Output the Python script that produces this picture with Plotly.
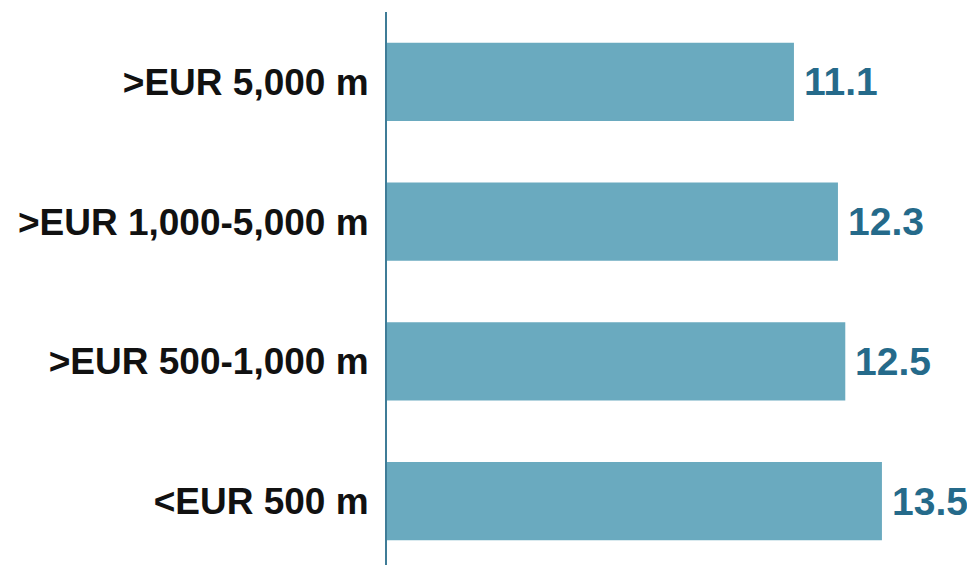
import plotly.graph_objects as go

categories = ["<EUR 500 m", ">EUR 500-1,000 m", ">EUR 1,000-5,000 m", ">EUR 5,000 m"]
values = [13.5, 12.5, 12.3, 11.1]

bar_color = "#6aaabf"
label_color = "#256a8a"
font_family = "Liberation Sans Narrow, Arial Narrow, Liberation Sans, Arial, sans-serif"

positions = list(range(len(categories)))

fig = go.Figure(
    go.Bar(
        x=values,
        y=positions,
        orientation="h",
        width=0.56,
        marker=dict(color=bar_color, line=dict(width=0)),
        hoverinfo="skip",
    )
)

for pos, val in zip(positions, values):
    fig.add_annotation(
        x=val,
        y=pos,
        text=f"<b>{val:.1f}</b>",
        showarrow=False,
        xanchor="left",
        yanchor="middle",
        xshift=8,
        font=dict(family=font_family, size=39, color=label_color),
    )

fig.update_layout(
    width=967,
    height=565,
    margin=dict(l=387, r=0, t=12, b=0),
    paper_bgcolor="white",
    plot_bgcolor="white",
    showlegend=False,
    xaxis=dict(
        range=[0, 15.82],
        showgrid=False,
        zeroline=False,
        showticklabels=False,
        showline=False,
        fixedrange=True,
        automargin=False,
    ),
    yaxis=dict(
        range=[-0.458, 3.5],
        tickvals=positions,
        ticktext=[f"<b>{c}</b>" for c in categories],
        tickfont=dict(family=font_family, size=37, color="#111111"),
        showgrid=False,
        zeroline=False,
        showline=True,
        linecolor="#3f7c97",
        linewidth=2,
        ticks="",
        ticklabelstandoff=9,
        automargin=False,
        fixedrange=True,
    ),
)

fig.write_html("out.html")
